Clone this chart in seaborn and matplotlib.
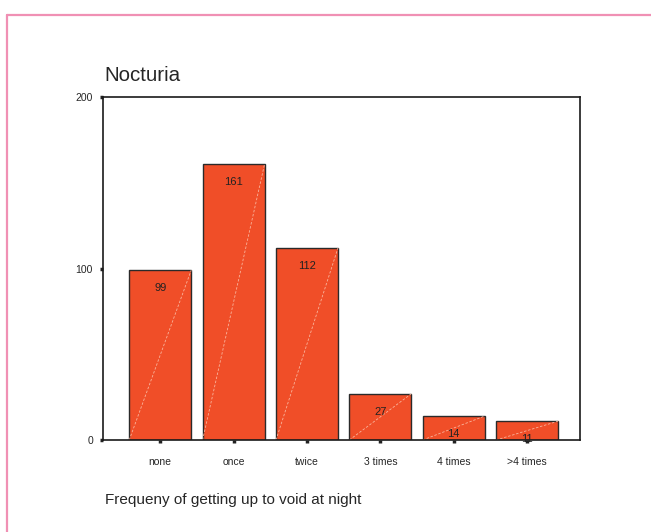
import matplotlib
matplotlib.use("Agg")
import matplotlib.pyplot as plt
from matplotlib.lines import Line2D
import pandas as pd
import seaborn as sns

categories = ["none", "once", "twice", "3 times", "4 times", ">4 times"]
counts = [99, 161, 112, 27, 14, 11]
y_ticks = [0, 100, 200]

sns.set_style("white")
plt.rcParams["font.family"] = ["Liberation Sans", "DejaVu Sans"]

df = pd.DataFrame({"nights": categories, "count": counts})

fig = plt.figure(figsize=(6.51, 5.32), dpi=100)
ax = fig.add_axes([0.1582, 0.1729, 0.7327, 0.6448])

sns.barplot(data=df, x="nights", y="count", color="#f04e28", saturation=1,
            width=0.845, edgecolor="#2a2a2a", linewidth=1.0, ax=ax)

# light diagonal line inside each bar, bottom-left to top-right
for patch in ax.patches:
    x0, y0 = patch.get_x(), patch.get_y()
    w, h = patch.get_width(), patch.get_height()
    ax.plot([x0, x0 + w], [y0, y0 + h], color="#f9b49c", lw=0.6,
            linestyle=(0, (3, 2)), zorder=patch.get_zorder() + 0.1)

# count labels just below bar top
for i, v in enumerate(counts):
    ax.annotate(str(v), (i, v), xytext=(0, -13), textcoords="offset points",
                ha="center", va="center", fontsize=8, color="#222222")

ax.set_xlim(-0.78, 5.72)
ax.set_ylim(0, 200)
ax.set_yticks(y_ticks)
ax.tick_params(axis="both", bottom=True, left=True, direction="out",
               length=2.2, width=2.5, color="#222222", labelsize=7.5)
ax.tick_params(axis="x", pad=10)
ax.tick_params(axis="y", pad=5)
for s in ax.spines.values():
    s.set_visible(True)
    s.set_color("#1a1a1a")
    s.set_linewidth(1.2)

ax.set_xlabel("")
ax.set_ylabel("")
fig.text(0.161, 0.859, "Nocturia", fontsize=14.8, ha="left", va="center")
fig.text(0.161, 0.06, "Frequeny of getting up to void at night", fontsize=11,
         ha="left", va="center")

# pink frame at top and left
fig.add_artist(Line2D([0.011, 1.0], [0.972, 0.972], transform=fig.transFigure,
                      color="#f090b4", lw=1.6))
fig.add_artist(Line2D([0.011, 0.011], [0.0, 0.972], transform=fig.transFigure,
                      color="#f090b4", lw=1.6))

fig.savefig("out.png", dpi=100)
